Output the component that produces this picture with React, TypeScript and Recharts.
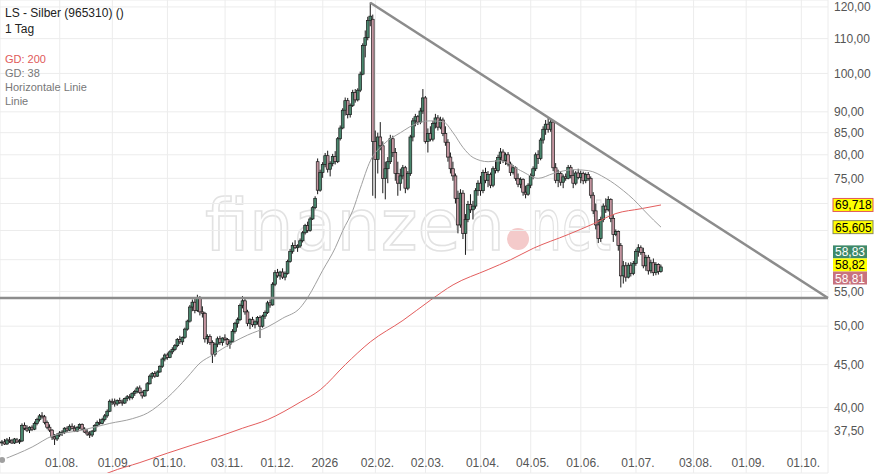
import {
  Bar,
  CartesianGrid,
  ComposedChart,
  Line,
  ReferenceLine,
  XAxis,
  YAxis,
} from "recharts";

// trading calendar (weekdays, exchange holidays skipped)
const START = Date.UTC(2025, 6, 1);
const HOLIDAYS = [
  "2025-12-24", "2025-12-25", "2025-12-26", "2025-12-31",
  "2026-01-01", "2026-04-03", "2026-04-06", "2026-05-01",
];
const tickDates = [
  "2025-08-01", "2025-09-01", "2025-10-01", "2025-11-03", "2025-12-01",
  "2026-01-02", "2026-02-02", "2026-03-02", "2026-04-01", "2026-05-04",
  "2026-06-01", "2026-07-01", "2026-08-03", "2026-09-01", "2026-10-01",
];
const tickLabels = [
  "01.08.", "01.09.", "01.10.", "03.11.", "01.12.",
  "2026", "02.02.", "02.03.", "01.04.", "04.05.",
  "01.06.", "01.07.", "03.08.", "01.09.", "01.10.",
];
const yTicks = [37.5, 40, 45, 50, 55, 60, 65, 70, 75, 80, 85, 90, 100, 110, 120];
const hiddenYLabels = [60, 65, 70];

// daily candles [open, high, low, close], from 01.07.2025
const candles: [number, number, number, number][] = [
  [36.3, 36.6, 36.0, 36.4], [36.4, 36.7, 36.1, 36.2], [36.2, 36.8, 36.1, 36.6], [36.6, 36.9, 36.3, 36.5],
  [36.5, 36.7, 36.2, 36.3], [36.3, 36.8, 36.2, 36.7], [36.6, 36.8, 36.3, 36.4], [36.4, 36.7, 36.2, 36.5],
  [36.5, 38.3, 36.4, 38.1], [38.1, 38.4, 37.6, 37.8], [37.8, 38.1, 37.4, 37.6], [37.6, 38.0, 37.3, 37.9],
  [37.9, 38.1, 37.5, 37.7], [37.7, 38.5, 37.6, 38.3], [38.3, 38.9, 38.1, 38.7], [38.7, 39.3, 38.5, 39.1],
  [39.1, 39.5, 38.8, 39.0], [39.0, 39.2, 38.2, 38.4], [38.4, 38.6, 37.7, 37.9], [37.9, 38.2, 37.4, 37.6],
  [37.6, 37.7, 36.6, 36.9], [36.9, 37.2, 36.1, 36.7], [36.7, 37.3, 36.5, 37.1], [37.1, 37.5, 36.9, 37.3],
  [37.3, 37.6, 37.0, 37.4], [37.4, 37.9, 37.2, 37.8], [37.8, 38.0, 37.4, 37.6], [37.6, 38.2, 37.5, 38.0],
  [38.0, 38.3, 37.7, 37.8], [37.8, 38.1, 37.4, 37.5], [37.5, 38.0, 37.4, 37.9], [37.9, 38.3, 37.7, 38.2],
  [38.2, 38.3, 37.6, 37.7], [37.7, 37.9, 37.3, 37.4], [37.4, 37.7, 37.0, 37.2], [37.2, 37.5, 36.8, 37.1],
  [37.1, 37.6, 36.9, 37.5], [37.5, 38.2, 37.4, 38.1], [38.1, 38.6, 37.9, 38.4], [38.4, 38.8, 38.1, 38.3],
  [38.3, 38.9, 38.2, 38.7], [38.7, 39.3, 38.5, 39.1], [39.1, 39.8, 38.9, 39.6], [39.6, 40.9, 39.5, 40.7],
  [40.7, 41.0, 40.3, 40.6], [40.6, 41.0, 40.1, 40.4], [40.4, 40.9, 40.2, 40.8], [40.8, 41.1, 40.4, 40.6],
  [40.6, 40.9, 40.2, 40.5], [40.5, 41.1, 40.4, 41.0], [41.0, 41.4, 40.7, 41.2], [41.2, 41.5, 40.8, 41.1],
  [41.1, 41.7, 40.9, 41.6], [41.6, 42.0, 41.3, 41.8], [41.8, 42.4, 41.6, 42.2], [42.2, 42.5, 41.5, 41.7],
  [41.7, 41.9, 41.0, 41.3], [41.3, 42.0, 41.2, 41.9], [41.9, 42.9, 41.8, 42.7], [42.7, 43.8, 42.6, 43.6],
  [43.6, 44.1, 43.3, 43.9], [43.9, 44.2, 43.4, 43.6], [43.6, 44.3, 43.5, 44.1], [44.1, 44.9, 44.0, 44.8],
  [44.8, 45.9, 44.6, 45.7], [45.7, 46.4, 45.4, 46.2], [46.2, 46.5, 45.6, 45.9], [45.9, 46.8, 45.8, 46.6],
  [46.6, 47.2, 46.3, 46.9], [46.9, 47.6, 46.7, 47.4], [47.4, 48.4, 47.2, 48.2], [48.2, 48.7, 47.6, 47.9],
  [47.9, 48.6, 47.5, 48.5], [48.5, 49.8, 48.3, 49.6], [49.6, 50.9, 49.4, 50.7], [50.7, 53.0, 50.5, 52.7],
  [52.7, 53.8, 52.1, 53.4], [53.4, 53.9, 51.8, 52.2], [52.2, 54.5, 52.0, 54.0], [54.0, 54.3, 51.5, 52.0],
  [52.0, 52.8, 51.2, 51.8], [51.8, 52.0, 47.8, 48.3], [48.3, 48.9, 47.6, 48.6], [48.6, 48.9, 47.5, 47.8],
  [47.8, 48.1, 45.2, 46.3], [46.3, 47.8, 46.0, 47.6], [47.6, 48.6, 47.2, 48.3], [48.3, 48.7, 47.5, 47.8],
  [47.8, 48.5, 47.4, 48.4], [48.4, 48.9, 48.0, 48.2], [48.2, 48.4, 47.3, 47.6], [47.6, 48.2, 47.0, 47.9],
  [47.9, 49.6, 47.8, 49.3], [49.3, 50.6, 49.0, 50.4], [50.4, 51.2, 49.8, 50.9], [50.9, 53.2, 50.7, 52.9],
  [52.9, 54.3, 52.5, 53.6], [53.6, 53.9, 51.6, 52.0], [52.0, 52.3, 50.0, 50.4], [50.4, 51.1, 49.6, 50.9],
  [50.9, 51.3, 49.9, 50.2], [50.2, 50.8, 49.7, 50.6], [50.6, 51.4, 50.2, 51.2], [51.2, 51.5, 48.4, 50.0],
  [50.0, 51.6, 49.8, 51.4], [51.4, 52.2, 51.0, 51.9], [51.9, 53.6, 51.7, 53.3], [53.3, 53.8, 52.6, 53.0],
  [53.0, 56.4, 52.9, 56.1], [56.1, 58.3, 55.8, 57.9], [57.9, 58.5, 57.1, 57.4], [57.4, 58.2, 56.8, 58.0],
  [58.0, 58.6, 56.9, 57.2], [57.2, 58.1, 56.7, 57.8], [57.8, 60.0, 57.6, 59.7], [59.7, 61.8, 59.5, 61.4],
  [61.4, 62.9, 61.0, 62.4], [62.4, 63.3, 61.8, 62.0], [62.0, 62.6, 61.3, 62.3], [62.3, 63.6, 62.0, 63.2],
  [63.2, 64.9, 62.9, 64.6], [64.6, 66.2, 64.3, 65.9], [65.9, 66.6, 64.6, 65.0], [65.0, 67.5, 64.8, 67.1],
  [67.1, 69.5, 66.9, 69.2], [69.2, 71.4, 68.9, 71.0], [78.5, 79.2, 71.8, 72.6], [72.6, 76.8, 72.3, 76.2],
  [76.2, 78.4, 75.1, 77.9], [77.9, 80.4, 77.3, 79.8], [79.8, 80.9, 76.2, 76.9], [76.9, 78.6, 75.4, 78.1],
  [78.1, 80.2, 77.5, 79.6], [79.6, 80.8, 77.9, 78.5], [78.5, 84.0, 78.2, 83.6], [83.6, 86.7, 83.2, 86.1],
  [86.1, 90.9, 85.8, 90.4], [90.4, 93.6, 89.1, 92.8], [92.8, 93.5, 88.4, 89.3], [89.3, 92.1, 88.6, 91.6],
  [91.6, 95.6, 91.2, 94.9], [94.9, 95.8, 92.3, 93.0], [93.0, 96.0, 92.6, 95.5], [95.5, 100.5, 95.0, 99.8],
  [99.8, 108.6, 99.5, 108.0], [108.0, 112.5, 104.5, 110.3], [110.3, 116.8, 109.5, 115.6], [115.6, 121.5, 113.8, 117.0],
  [116.0, 117.5, 71.5, 83.0], [83.0, 85.5, 71.0, 79.0], [79.0, 85.0, 76.0, 84.0], [84.0, 87.5, 81.0, 82.0],
  [82.0, 83.0, 72.0, 75.0], [75.0, 78.5, 70.8, 77.0], [77.0, 79.5, 74.0, 78.5], [78.5, 84.5, 78.0, 83.6],
  [83.6, 84.3, 79.5, 80.5], [80.5, 81.5, 74.5, 76.0], [76.0, 78.5, 71.5, 74.0], [74.0, 77.0, 72.5, 75.5],
  [75.5, 77.8, 74.8, 77.2], [77.2, 77.6, 72.0, 73.0], [73.0, 76.5, 72.6, 76.0], [76.0, 84.5, 75.5, 84.0],
  [84.0, 88.5, 83.0, 87.8], [87.8, 89.5, 86.5, 88.8], [88.8, 89.2, 86.8, 87.5], [87.5, 91.0, 87.0, 90.2],
  [90.2, 95.8, 89.5, 93.5], [93.5, 94.0, 82.5, 83.0], [83.0, 86.0, 80.5, 84.8], [84.8, 86.5, 83.0, 83.5],
  [83.5, 87.8, 83.0, 87.2], [87.2, 89.5, 86.0, 88.5], [88.5, 89.2, 85.5, 86.3], [86.3, 88.8, 85.8, 88.0],
  [88.0, 88.6, 84.2, 84.8], [84.8, 86.5, 82.0, 82.8], [82.8, 83.5, 78.5, 79.5], [79.5, 80.5, 76.0, 77.0],
  [77.0, 78.5, 74.5, 75.5], [75.5, 76.0, 70.0, 71.0], [71.0, 72.5, 64.5, 66.0], [66.0, 72.8, 65.5, 72.0],
  [72.0, 72.6, 63.5, 64.5], [64.5, 68.0, 60.8, 67.0], [67.0, 70.5, 66.5, 69.8], [69.8, 71.8, 68.2, 68.8],
  [68.8, 70.5, 67.0, 69.5], [69.5, 73.0, 69.0, 72.5], [72.5, 74.6, 71.5, 74.0], [74.0, 75.5, 71.5, 72.5],
  [72.5, 76.8, 72.0, 76.2], [76.2, 77.2, 74.0, 74.6], [74.6, 76.5, 73.2, 75.8], [75.8, 76.2, 73.0, 73.6],
  [73.6, 77.5, 73.2, 77.0], [77.0, 78.8, 76.0, 76.6], [76.6, 80.0, 76.2, 79.4], [79.4, 81.5, 78.0, 80.6],
  [80.6, 81.2, 78.2, 78.8], [78.8, 80.5, 77.8, 80.0], [80.0, 80.6, 77.5, 78.0], [78.0, 78.5, 75.5, 76.2],
  [76.2, 77.8, 75.8, 77.2], [77.2, 77.5, 74.5, 75.0], [75.0, 76.0, 73.2, 73.8], [73.8, 75.2, 73.0, 74.8],
  [74.8, 75.0, 71.5, 72.2], [72.2, 73.5, 71.0, 71.8], [71.8, 74.0, 71.5, 73.6], [73.6, 76.0, 73.0, 75.5],
  [75.5, 77.5, 74.8, 77.0], [77.0, 80.5, 76.5, 80.0], [80.0, 81.0, 78.0, 79.2], [79.2, 83.8, 78.8, 83.3],
  [83.3, 86.5, 82.5, 85.8], [85.8, 88.0, 84.5, 87.0], [87.0, 88.6, 85.0, 85.8], [85.8, 88.2, 85.2, 87.5],
  [87.5, 88.0, 76.5, 77.2], [77.2, 78.2, 74.0, 74.6], [74.6, 76.8, 73.2, 76.0], [76.0, 76.5, 73.5, 74.2],
  [74.2, 75.8, 73.0, 75.3], [75.3, 76.0, 74.5, 75.0], [75.0, 77.8, 74.8, 77.3], [77.3, 77.8, 75.0, 75.6],
  [75.6, 76.8, 73.0, 74.0], [74.0, 76.5, 73.6, 76.1], [76.1, 77.0, 74.8, 75.2], [75.2, 76.6, 74.0, 76.0],
  [76.0, 76.4, 73.8, 74.5], [74.5, 76.2, 74.0, 75.8], [75.8, 76.3, 74.5, 75.0], [75.0, 75.4, 71.0, 71.6],
  [71.6, 72.2, 68.0, 68.6], [68.6, 70.0, 65.2, 66.0], [66.0, 67.0, 62.8, 63.6], [63.6, 67.5, 63.0, 67.0],
  [67.0, 70.0, 66.5, 69.5], [69.5, 71.0, 68.2, 68.8], [68.8, 71.4, 68.5, 70.8], [70.8, 71.0, 66.5, 67.2],
  [67.2, 67.8, 63.0, 64.3], [64.3, 65.2, 64.0, 64.8], [64.8, 65.0, 61.5, 62.4], [62.4, 62.8, 55.6, 57.4],
  [57.4, 59.8, 56.2, 59.0], [59.0, 59.6, 56.5, 57.2], [57.2, 59.5, 57.0, 59.1], [59.1, 59.6, 57.3, 57.8],
  [57.8, 59.8, 57.5, 59.4], [59.4, 61.8, 59.0, 61.4], [61.4, 62.6, 60.5, 62.0], [62.0, 62.4, 60.8, 61.2],
  [61.2, 62.0, 58.6, 59.0], [59.0, 60.8, 58.2, 60.4], [60.4, 60.8, 57.6, 58.2], [58.2, 60.0, 57.8, 59.5],
  [59.5, 60.2, 57.4, 57.9], [57.9, 59.6, 57.5, 59.2], [59.2, 59.4, 57.6, 58.1], [58.1, 59.2, 57.9, 58.82],
];

// moving averages, read at [day index, value]
const gd38: [number, number][] = [
  [0, 34.65], [12, 35.9], [20, 37.0], [32, 37.6], [43, 38.3], [52, 38.8], [58, 39.4],
  [66, 41.1], [74, 43.5], [79, 45.2], [84, 46.2], [92, 47.8], [98, 48.8], [106, 49.9],
  [112, 51.1], [119, 52.6], [122, 54.1], [128, 58.3], [133, 62.0], [136, 65.0], [140, 68.7],
  [143, 73.0], [147, 78.7], [152, 82.2], [159, 85.0], [166, 87.3], [171, 87.8], [176, 87.6],
  [180, 85.0], [184, 81.6], [188, 79.4], [194, 78.5], [199, 78.7], [207, 76.6], [214, 75.0],
  [220, 76.0], [228, 76.8], [234, 76.6], [241, 75.0], [248, 72.5], [252, 70.8], [256, 68.8],
  [260, 66.9], [263, 65.605],
];
const gd200: [number, number][] = [
  [38, 33.0], [43, 33.5], [55, 34.4], [66, 35.3], [76, 36.1], [86, 36.9], [96, 37.8],
  [106, 38.7], [119, 40.6], [127, 42.0], [137, 45.0], [147, 47.9], [160, 50.8], [171, 53.7],
  [180, 56.0], [194, 58.4], [203, 60.0], [212, 61.9], [226, 64.3], [236, 66.2], [245, 68.1],
  [255, 69.0], [263, 69.718],
];

const horizontalLevel = 54.02;
const trendStart = { x: 147, y: 121.4 };
const trendEnd = { x: 329.65, y: 54.02 };

const calendar: string[] = [];
for (let t = START; calendar.length < 340; t += 86400000) {
  const d = new Date(t);
  const iso = d.toISOString().slice(0, 10);
  const wd = d.getUTCDay();
  if (wd !== 0 && wd !== 6 && !HOLIDAYS.includes(iso)) calendar.push(iso);
}
const tickIdx = tickDates.map((d) => calendar.indexOf(d));
const labelOf: Record<number, string> = {};
tickIdx.forEach((i, k) => (labelOf[i] = tickLabels[k]));

const rows = candles.map(([o, h, l, c], i) => ({
  i,
  o,
  h,
  l,
  c,
  range: [l, h],
  gd38: null as number | null,
  gd200: null as number | null,
}));
gd38.forEach(([i, v]) => (rows[i].gd38 = v));
gd200.forEach(([i, v]) => (rows[i].gd200 = v));

const fmt = (v: number) =>
  hiddenYLabels.includes(v) ? "" : v.toFixed(2).replace(".", ",");

function Candle(props: any) {
  const { x, y, width, height, payload } = props;
  if (!payload || height == null) return null;
  const { o, h, l, c } = payload;
  const lh = Math.log(h);
  const span = lh - Math.log(l) || 1;
  const py = (v: number) => y + ((lh - Math.log(v)) / span) * height;
  const cx = x + width / 2;
  const top = py(Math.max(o, c));
  const bot = py(Math.min(o, c));
  return (
    <g>
      <line x1={cx} x2={cx} y1={y} y2={y + height} stroke="#1a1a1a" strokeWidth={1} />
      <rect
        x={cx - 1.4}
        y={top}
        width={2.8}
        height={Math.max(1, bot - top)}
        fill={c >= o ? "#4a876e" : "#c495a0"}
        stroke="#1a1a1a"
        strokeWidth={0.7}
      />
    </g>
  );
}

function XTick(props: any) {
  const { x, y, payload } = props;
  return (
    <text x={x + 2} y={y - 6} textAnchor="middle" fill="#555" fontSize={12}>
      {labelOf[payload.value]}
    </text>
  );
}

function ValueBox(props: any) {
  const { viewBox, text, bg, border, color, dy, w } = props;
  if (!viewBox) return null;
  const bx = viewBox.x + viewBox.width + 5;
  const cy = viewBox.y + dy;
  return (
    <g>
      <rect x={bx} y={cy - 6.5} width={w} height={13} fill={bg} stroke={border} strokeWidth={border === "none" ? 0 : 1} />
      <text x={bx + 2} y={cy + 4.5} fontSize={12} fill={color}>
        {text}
      </text>
    </g>
  );
}

const boxes = [
  { v: 69.718, text: "69,718", bg: "#ffff00", border: "#e05a5a", color: "#000", dy: 0, w: 40 },
  { v: 65.605, text: "65,605", bg: "#ffff00", border: "#8a8a5a", color: "#000", dy: 0, w: 40 },
  { v: 58.83, text: "58,83", bg: "#3f8a6a", border: "none", color: "#fff", dy: -15, w: 34 },
  { v: 58.82, text: "58,82", bg: "#ffff00", border: "none", color: "#000", dy: -2, w: 34 },
  { v: 58.81, text: "58,81", bg: "#c8727e", border: "none", color: "#fff", dy: 11, w: 34 },
];

export default function App() {
  return (
    <div
      style={{
        position: "relative",
        width: 878,
        height: 474,
        overflow: "hidden",
        background: "#fff",
        fontFamily: '"Liberation Sans", Arial, sans-serif',
      }}
    >
      <style>{"body{margin:0}"}</style>
      <svg width={878} height={474} style={{ position: "absolute", left: 0, top: 0 }}>
        <text
          x={205}
          y={250}
          fontSize={72}
          fill="none"
          stroke="#e2e2e2"
          strokeWidth={1.6}
          textLength={300}
          lengthAdjust="spacingAndGlyphs"
          fontFamily="DejaVu Sans"
        >
          finanzen
        </text>
        <circle cx={518} cy={239} r={11} fill="#f4caca" />
        <text
          x={531}
          y={250}
          fontSize={72}
          fill="none"
          stroke="#e2e2e2"
          strokeWidth={1.6}
          textLength={80}
          lengthAdjust="spacingAndGlyphs"
          fontFamily="DejaVu Sans"
        >
          net
        </text>
      </svg>
      <div style={{ position: "absolute", left: 0, top: 0 }}>
        <ComposedChart
          width={878}
          height={474}
          data={rows}
          margin={{ top: 0, right: 0, bottom: 0, left: 0 }}
        >
          <CartesianGrid stroke="#ececec" />
          <XAxis
            type="number"
            dataKey="i"
            domain={[-0.83, 329.65]}
            allowDataOverflow
            ticks={tickIdx}
            interval={0}
            height={1}
            tickLine={false}
            axisLine={false}
            tickSize={0}
            tickMargin={0}
            tick={<XTick />}
          />
          <YAxis
            orientation="right"
            scale="log"
            domain={[33.43, 122.3]}
            allowDataOverflow
            ticks={yTicks}
            interval={0}
            width={50}
            tickLine={false}
            axisLine={false}
            tickSize={0}
            tickMargin={6}
            tick={{ fill: "#555", fontSize: 12 }}
            tickFormatter={fmt}
          />
          <Bar dataKey="range" barSize={3} shape={<Candle />} isAnimationActive={false} />
          <Line
            dataKey="gd200"
            type="monotone"
            stroke="#e35d5d"
            strokeWidth={1}
            dot={false}
            connectNulls
            isAnimationActive={false}
          />
          <Line
            dataKey="gd38"
            type="monotone"
            stroke="#a0a0a0"
            strokeWidth={1}
            dot={false}
            connectNulls
            isAnimationActive={false}
          />
          <ReferenceLine y={horizontalLevel} stroke="#8c8c8c" strokeWidth={2.5} />
          <ReferenceLine segment={[trendStart, trendEnd]} stroke="#8c8c8c" strokeWidth={2.5} />
          {boxes.map((b) => (
            <ReferenceLine
              key={b.text}
              y={b.v}
              stroke="none"
              label={<ValueBox text={b.text} bg={b.bg} border={b.border} color={b.color} dy={b.dy} w={b.w} />}
            />
          ))}
        </ComposedChart>
      </div>
      <div style={{ position: "absolute", left: 5, top: 5, fontSize: 12, color: "#222", lineHeight: "16px", pointerEvents: "none" }}>
        <div>LS - Silber (965310) ()</div>
        <div>1 Tag</div>
      </div>
      <div style={{ position: "absolute", left: 5, top: 52, fontSize: 11, lineHeight: "14px", color: "#777", pointerEvents: "none" }}>
        <div style={{ color: "#e05a5a" }}>GD: 200</div>
        <div>GD: 38</div>
        <div>Horizontale Linie</div>
        <div>Linie</div>
      </div>
    </div>
  );
}
